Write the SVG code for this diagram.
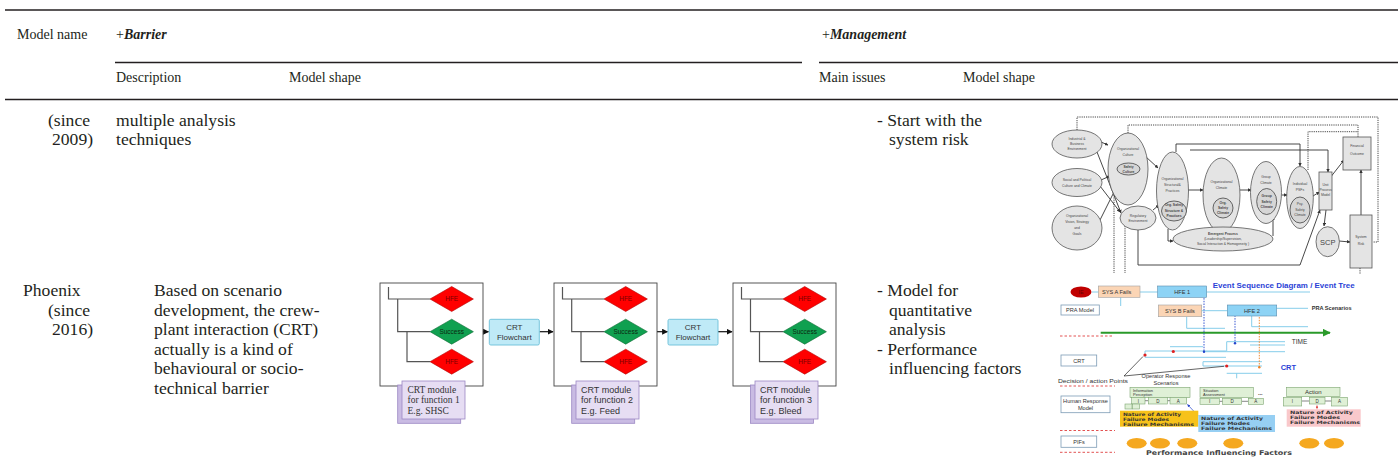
<svg xmlns="http://www.w3.org/2000/svg" width="1398" height="467" viewBox="0 0 1398 467">
<style>
.t{font-family:"Liberation Serif",serif;fill:#231f20}
.h{font-size:14px}
.b{font-size:17.6px}
.bi{font-weight:bold;font-style:italic}
.rule{stroke:#231f20;stroke-width:1.6}
.s{font-family:"Liberation Sans",Arial,sans-serif}
.e1{fill:#e4e4e4;stroke:#555;stroke-width:0.8}
.e1i{fill:#d6d6d6;stroke:#444;stroke-width:0.8}
.tx1{font-family:"Liberation Sans",Arial,sans-serif;font-size:3.4px;fill:#444;text-anchor:middle}
.ln1{fill:none;stroke:#333;stroke-width:0.9}
.dot1{fill:none;stroke:#333;stroke-width:0.9;stroke-dasharray:1.2 1}
.tree{fill:none;stroke:#555;stroke-width:1.2}
.box{fill:#fff;stroke:#444;stroke-width:0.9}
.red{fill:#ff0000;stroke:#b00000;stroke-width:0.6}
.grn{fill:#10a050;stroke:#0a6a30;stroke-width:0.6}
.dtx{font-family:"Liberation Sans",Arial,sans-serif;font-size:6.5px;text-anchor:middle}
.crt{fill:#bfeaf7;stroke:#6cbfd8;stroke-width:0.9}
.mback{fill:#c9bbe3;stroke:#9c88c4;stroke-width:0.8}
.mfront{fill:#e6ddf3;stroke:#9c88c4;stroke-width:0.8}
.arr{fill:none;stroke:#111;stroke-width:1.2}
.lb{fill:#fff;stroke:#7d9cb6;stroke-width:0.8}
.ptx{font-family:"Liberation Sans",Arial,sans-serif;font-size:5.6px;fill:#333}
.bl{fill:none;stroke:#86cdea;stroke-width:1}
.gb{fill:#dff0d6;stroke:#7da672;stroke-width:0.6}
.mono{font-family:"DejaVu Sans",sans-serif;font-size:4.6px;fill:#333;font-weight:bold}
.rd{fill:none;stroke:#e04040;stroke-width:0.9;stroke-dasharray:2.5 2}
.org{fill:#f5a81f}
</style>
<defs>
<marker id="ah" viewBox="0 0 10 10" refX="9" refY="5" markerWidth="5" markerHeight="5" orient="auto"><path d="M0,0 L10,5 L0,10 z" fill="#111"/></marker>
<marker id="ah1" viewBox="0 0 10 10" refX="9" refY="5" markerWidth="4" markerHeight="4" orient="auto"><path d="M0,0 L10,5 L0,10 z" fill="#333"/></marker>
<marker id="ahg" viewBox="0 0 10 10" refX="9" refY="5" markerWidth="4" markerHeight="4" orient="auto"><path d="M0,0 L10,5 L0,10 z" fill="#2a9a2a"/></marker>
<marker id="ahb" viewBox="0 0 10 10" refX="9" refY="5" markerWidth="4" markerHeight="4" orient="auto"><path d="M0,0 L10,5 L0,10 z" fill="#2244cc"/></marker>
<marker id="ahr" viewBox="0 0 10 10" refX="9" refY="5" markerWidth="4" markerHeight="4" orient="auto"><path d="M0,0 L10,5 L0,10 z" fill="#e05050"/></marker>
</defs>

<g id="table-rules">
<line class="rule" x1="5" y1="10" x2="1398" y2="10"/>
<line class="rule" x1="115" y1="62.5" x2="802" y2="62.5"/>
<line class="rule" x1="819" y1="62.5" x2="1398" y2="62.5"/>
<line class="rule" x1="5" y1="99.5" x2="1398" y2="99.5"/>
</g>

<g id="table-header">
<text class="t h" x="17" y="39">Model name</text>
<text class="t h" x="116" y="39">+<tspan class="bi">Barrier</tspan></text>
<text class="t h" x="822" y="39">+<tspan class="bi">Management</tspan></text>
<text class="t h" x="116" y="82">Description</text>
<text class="t h" x="289" y="82">Model shape</text>
<text class="t h" x="819" y="82">Main issues</text>
<text class="t h" x="963" y="82">Model shape</text>
</g>

<g id="row1-text">
<text class="t b" x="48" y="126">(since</text>
<text class="t b" x="52" y="145">2009)</text>
<text class="t b" x="116" y="126">multiple analysis</text>
<text class="t b" x="116" y="145">techniques</text>
<text class="t b" x="877" y="126">- Start with the</text>
<text class="t b" x="889" y="145">system risk</text>
</g>

<g id="row2-text">
<text class="t b" x="23" y="296">Phoenix</text>
<text class="t b" x="48" y="315.5">(since</text>
<text class="t b" x="52" y="335">2016)</text>
<text class="t b" x="154" y="296">Based on scenario</text>
<text class="t b" x="154" y="315.5">development, the crew-</text>
<text class="t b" x="154" y="335">plant interaction (CRT)</text>
<text class="t b" x="154" y="354.5">actually is a kind of</text>
<text class="t b" x="154" y="374">behavioural or socio-</text>
<text class="t b" x="154" y="393.5">technical barrier</text>
<text class="t b" x="877" y="296">- Model for</text>
<text class="t b" x="889" y="315.5">quantitative</text>
<text class="t b" x="889" y="335">analysis</text>
<text class="t b" x="877" y="354.5">- Performance</text>
<text class="t b" x="889" y="374">influencing factors</text>
</g>

<!-- ============ Socio-technical risk model ============ -->
<g id="str-connectors">
<path class="dot1" d="M1077,130 V117 H1378 V242 H1373"/>
<path class="dot1" d="M1128,133 V125 H1358 V137"/>
<path class="dot1" d="M1308,170 V131.7 H1358"/>
<path class="dot1" d="M1114,193 V273"/>
<path class="dot1" d="M1125,226 V273"/>
<path class="dot1" d="M1360,268 V274"/>
<path class="ln1" d="M1101,142 L1108,145" marker-end="url(#ah1)"/>
<path class="ln1" d="M1097,152 L1121,213" marker-end="url(#ah1)"/>
<path class="ln1" d="M1101,180 L1110,176" marker-end="url(#ah1)"/>
<path class="ln1" d="M1100,186 L1120,212" marker-end="url(#ah1)"/>
<path class="ln1" d="M1100,220 L1115,190" marker-end="url(#ah1)"/>
<path class="ln1" d="M1145,156 L1158,168" marker-end="url(#ah1)"/>
<path class="ln1" d="M1153,210 L1159,205" marker-end="url(#ah1)"/>
<path class="ln1" d="M1188,190 H1203" marker-end="url(#ah1)"/>
<path class="ln1" d="M1240,190 H1251" marker-end="url(#ah1)"/>
<path class="ln1" d="M1281.5,195 H1287" marker-end="url(#ah1)"/>
<path class="ln1" d="M1313,196 L1319.5,192" marker-end="url(#ah1)"/>
<path class="ln1" d="M1176,152 V144 H1300 V166" marker-end="url(#ah1)"/>
<path class="ln1" d="M1190,150 H1328 V172" marker-end="url(#ah1)"/>
<path class="ln1" d="M1331.5,176 L1344,160" marker-end="url(#ah1)"/>
<path class="ln1" d="M1326,210 L1324,226" marker-end="url(#ah1)"/>
<path class="ln1" d="M1339,241 L1350,242" marker-end="url(#ah1)"/>
<path class="ln1" d="M1361,215 V170" marker-end="url(#ah1)"/>
<path class="ln1" d="M1273,236 V217" marker-end="url(#ah1)"/>
<path class="ln1" d="M1223,227 V218.5" marker-end="url(#ah1)"/>
<path class="ln1" d="M1168,229 V241 H1173" marker-end="url(#ah1)"/>
<path class="ln1" d="M1138,230 V265 H1300 L1320,210" marker-end="url(#ah1)"/>
</g>
<g id="str-industrial">
<ellipse class="e1" cx="1077" cy="144" rx="25" ry="14"/>
<text class="tx1" x="1077" y="140">Industrial &amp;</text><text class="tx1" x="1077" y="145">Business</text><text class="tx1" x="1077" y="150">Environment</text>
</g>
<g id="str-social">
<ellipse class="e1" cx="1077" cy="182.5" rx="25" ry="14"/>
<text class="tx1" x="1077" y="181">Social and Political</text><text class="tx1" x="1077" y="187">Culture and Climate</text>
</g>
<g id="str-vision">
<ellipse class="e1" cx="1077" cy="228" rx="25" ry="22"/>
<text class="tx1" x="1077" y="217">Organizational</text><text class="tx1" x="1077" y="223">Vision, Strategy</text><text class="tx1" x="1077" y="229">and</text><text class="tx1" x="1077" y="235">Goals</text>
</g>
<g id="str-orgculture">
<ellipse class="e1" cx="1128" cy="169" rx="20" ry="36"/>
<text class="tx1" x="1128" y="150">Organizational</text><text class="tx1" x="1128" y="156">Culture</text>
<ellipse class="e1i" cx="1128.5" cy="169" rx="11.5" ry="6"/>
<text class="tx1" x="1128.5" y="168" style="font-weight:bold">Safety</text><text class="tx1" x="1128.5" y="172.5" style="font-weight:bold">Culture</text>
</g>
<g id="str-regulatory">
<ellipse class="e1" cx="1138" cy="218" rx="18" ry="12"/>
<text class="tx1" x="1138" y="217">Regulatory</text><text class="tx1" x="1138" y="222">Environment</text>
</g>
<g id="str-orgstructure">
<ellipse class="e1" cx="1172.5" cy="191" rx="16" ry="39"/>
<text class="tx1" x="1172.5" y="180">Organizational</text><text class="tx1" x="1172.5" y="186">Structural&amp;</text><text class="tx1" x="1172.5" y="192">Practices</text>
<ellipse class="e1i" cx="1174" cy="211" rx="12.5" ry="10"/>
<text class="tx1" x="1174" y="206" style="font-weight:bold">Org. Safety</text><text class="tx1" x="1174" y="211.5" style="font-weight:bold">Structure &amp;</text><text class="tx1" x="1174" y="217" style="font-weight:bold">Practices</text>
</g>
<g id="str-orgclimate">
<ellipse class="e1" cx="1221.5" cy="195" rx="18.5" ry="37"/>
<text class="tx1" x="1221.5" y="183">Organizational</text><text class="tx1" x="1221.5" y="189">Climate</text>
<ellipse class="e1i" cx="1223" cy="208" rx="10" ry="10"/>
<text class="tx1" x="1223" y="204" style="font-weight:bold">Org.</text><text class="tx1" x="1223" y="209" style="font-weight:bold">Safety</text><text class="tx1" x="1223" y="214" style="font-weight:bold">Climate</text>
</g>
<g id="str-groupclimate">
<ellipse class="e1" cx="1266" cy="192.5" rx="15.5" ry="31"/>
<text class="tx1" x="1266" y="178">Group</text><text class="tx1" x="1266" y="184">Climate</text>
<ellipse class="e1i" cx="1266.7" cy="201.5" rx="10" ry="13"/>
<text class="tx1" x="1266.7" y="197" style="font-weight:bold">Group</text><text class="tx1" x="1266.7" y="202.5" style="font-weight:bold">Safety</text><text class="tx1" x="1266.7" y="208" style="font-weight:bold">Climate</text>
</g>
<g id="str-individual">
<ellipse class="e1" cx="1300" cy="197.5" rx="13.3" ry="31"/>
<text class="tx1" x="1300" y="185">Individual</text><text class="tx1" x="1300" y="191">PSFs</text>
<ellipse class="e1i" cx="1300" cy="210" rx="10" ry="13"/>
<text class="tx1" x="1300" y="205">Psy.</text><text class="tx1" x="1300" y="210.5">Safety</text><text class="tx1" x="1300" y="216">Climate</text>
</g>
<g id="str-emergent">
<ellipse class="e1" cx="1223" cy="239" rx="50" ry="12"/>
<text class="tx1" x="1223" y="235" style="font-weight:bold">Emergent Process</text><text class="tx1" x="1223" y="240">(Leadership/Supervision,</text><text class="tx1" x="1223" y="245">Social Interaction &amp; Homogeneity )</text>
</g>
<g id="str-unit">
<rect class="e1" x="1319" y="172" width="13" height="38"/>
<text class="tx1" x="1325.5" y="186">Unit</text><text class="tx1" x="1325.5" y="191">Process</text><text class="tx1" x="1325.5" y="196">Model</text>
</g>
<g id="str-financial">
<rect class="e1" x="1343" y="137" width="28" height="33"/>
<text class="tx1" x="1357" y="147">Financial</text><text class="tx1" x="1357" y="155">Outcome</text>
</g>
<g id="str-scp">
<ellipse class="e1" cx="1327.7" cy="241.7" rx="11.7" ry="15"/>
<text x="1327.7" y="244.5" style="font-family:'Liberation Sans',Arial,sans-serif;font-size:7.5px;fill:#444;text-anchor:middle">SCP</text>
</g>
<g id="str-systemrisk">
<rect class="e1" x="1350" y="215" width="22" height="53"/>
<text class="tx1" x="1361" y="238">System</text><text class="tx1" x="1361" y="245">Risk</text>
</g>

<!-- ============ CRT flowchart ============ -->
<g id="crt-connectors">
<path class="arr" d="M473.5,331.7 H488.5" marker-end="url(#ah)"/>
<path class="arr" d="M539.5,331.7 H553" marker-end="url(#ah)"/>
<path class="arr" d="M647.5,331.7 H667.5" marker-end="url(#ah)"/>
<path class="arr" d="M717.5,331.7 H732" marker-end="url(#ah)"/>
</g>
<g id="crt-box1">
<rect class="box" x="380" y="283" width="103" height="103"/>
<path class="tree" d="M388.5,287 V299 H430 M397.7,299 V331.7 H430 M407,331.7 V361.7 H430"/>
<path class="red" d="M430,299 L451.7,286.5 L473.4,299 L451.7,311.5 z"/>
<text class="dtx" x="451.7" y="301.3" fill="#7a0000">HFE</text>
<path class="grn" d="M430,331.7 L451.7,319.2 L473.4,331.7 L451.7,344.2 z"/>
<text class="dtx" x="451.7" y="334" fill="#0a2a10">Success</text>
<path class="red" d="M430,361.7 L451.7,349.2 L473.4,361.7 L451.7,374.2 z"/>
<text class="dtx" x="451.7" y="364" fill="#7a0000">HFE</text>
</g>
<g id="crt-module1">
<rect class="mback" x="397.7" y="385" width="63" height="38.3"/>
<rect class="mfront" x="402" y="381" width="63" height="38"/>
<text x="407.5" y="392.5" style="font-family:'Liberation Serif',serif;font-size:9.5px;fill:#333">CRT module</text>
<text x="407.5" y="403" style="font-family:'Liberation Serif',serif;font-size:9.5px;fill:#333">for function 1</text>
<text x="407.5" y="413.5" style="font-family:'Liberation Serif',serif;font-size:9.5px;fill:#333">E.g. SHSC</text>
</g>
<g id="crt-flow1">
<rect class="crt" x="489.3" y="319.3" width="50" height="25.7" rx="1.5"/>
<text class="dtx" x="514.3" y="329.5" fill="#333" style="font-size:8px">CRT</text>
<text class="dtx" x="514.3" y="340" fill="#333" style="font-size:8px">Flowchart</text>
</g>
<g id="crt-box2">
<rect class="box" x="554" y="283" width="103" height="103"/>
<path class="tree" d="M562.5,287 V299 H604 M571.7,299 V331.7 H604 M581,331.7 V361.7 H604"/>
<path class="red" d="M604,299 L625.7,286.5 L647.4,299 L625.7,311.5 z"/>
<text class="dtx" x="625.7" y="301.3" fill="#7a0000">HFE</text>
<path class="grn" d="M604,331.7 L625.7,319.2 L647.4,331.7 L625.7,344.2 z"/>
<text class="dtx" x="625.7" y="334" fill="#0a2a10">Success</text>
<path class="red" d="M604,361.7 L625.7,349.2 L647.4,361.7 L625.7,374.2 z"/>
<text class="dtx" x="625.7" y="364" fill="#7a0000">HFE</text>
</g>
<g id="crt-module2">
<rect class="mback" x="571.7" y="385" width="63" height="38.3"/>
<rect class="mfront" x="576" y="381" width="63" height="38"/>
<text class="s" x="581" y="392.5" style="font-size:9px;fill:#333">CRT module</text>
<text class="s" x="581" y="403" style="font-size:9px;fill:#333">for function 2</text>
<text class="s" x="581" y="413.5" style="font-size:9px;fill:#333">E.g. Feed</text>
</g>
<g id="crt-flow2">
<rect class="crt" x="668" y="319.3" width="50" height="25.7" rx="1.5"/>
<text class="dtx" x="693" y="329.5" fill="#333" style="font-size:8px">CRT</text>
<text class="dtx" x="693" y="340" fill="#333" style="font-size:8px">Flowchart</text>
</g>
<g id="crt-box3">
<rect class="box" x="733" y="283" width="103" height="103"/>
<path class="tree" d="M741.5,287 V299 H783 M750.5,299 V331.7 H783 M759.5,331.7 V361.7 H783"/>
<path class="red" d="M783,299 L804.7,286.5 L826.4,299 L804.7,311.5 z"/>
<text class="dtx" x="804.7" y="301.3" fill="#7a0000">HFE</text>
<path class="grn" d="M783,331.7 L804.7,319.2 L826.4,331.7 L804.7,344.2 z"/>
<text class="dtx" x="804.7" y="334" fill="#0a2a10">Success</text>
<path class="red" d="M783,361.7 L804.7,349.2 L826.4,361.7 L804.7,374.2 z"/>
<text class="dtx" x="804.7" y="364" fill="#7a0000">HFE</text>
</g>
<g id="crt-module3">
<rect class="mback" x="750.5" y="385" width="63" height="38.3"/>
<rect class="mfront" x="755" y="381" width="63" height="38"/>
<text class="s" x="760" y="392.5" style="font-size:9px;fill:#333">CRT module</text>
<text class="s" x="760" y="403" style="font-size:9px;fill:#333">for function 3</text>
<text class="s" x="760" y="413.5" style="font-size:9px;fill:#333">E.g. Bleed</text>
</g>

<!-- ============ Phoenix model ============ -->
<g id="phx-connectors">
<path class="bl" d="M1092,292 H1098.3 M1140,292 H1157.7 M1206.7,292 H1310 M1120.7,297.3 V306 M1201.7,310.7 H1227.3 M1186.7,316.7 V328.3 H1225 M1276.7,308.3 H1308 M1251.7,316 V326.7 H1308"/>
<path class="bl" d="M1170,346.7 H1203 M1145,351 H1226 M1145,351 V357.3 H1226 M1226.7,341.7 H1285 M1226.7,341.7 V351 M1250,345 H1285 M1203,351.7 H1285 M1203,361.7 H1262 M1203,361.7 V366 H1262 M1226.7,373.3 H1262 M1236.7,373.3 V378.3"/>
<path d="M1100.7,332.7 H1330" stroke="#2a9a2a" stroke-width="2" fill="none" marker-end="url(#ahg)"/>
<path d="M1204,290 V351.7" stroke="#2244cc" stroke-width="0.9" stroke-dasharray="1.5 1.2" fill="none"/>
<path d="M1235,310 V343.3" stroke="#2244cc" stroke-width="0.9" stroke-dasharray="1.5 1.2" fill="none"/>
<path d="M1259.3,311.7 V367.3" stroke="#f08020" stroke-width="0.9" stroke-dasharray="1.5 1.2" fill="none"/>
<circle cx="1204" cy="290" r="1.2" fill="#2244cc"/><circle cx="1204" cy="351.7" r="1.2" fill="#2244cc"/>
<circle cx="1235" cy="310" r="1.2" fill="#2244cc"/><circle cx="1235" cy="343.3" r="1.2" fill="#2244cc"/>
<circle cx="1259.3" cy="311.7" r="1.2" fill="#f08020"/><circle cx="1259.3" cy="367.3" r="1.2" fill="#f08020"/>
<path d="M1124,376 L1143,356.5 M1124,376 L1224,366.3" stroke="#222" stroke-width="0.7" fill="none"/>
<circle cx="1145" cy="355" r="1.6" fill="#e02020"/>
<circle cx="1173.3" cy="351.5" r="1.6" fill="#e02020"/>
<circle cx="1226.7" cy="366" r="1.6" fill="#e02020"/>
<path d="M1198.3,416 L1187.5,404.5" stroke="#2244cc" stroke-width="0.7" fill="none" marker-end="url(#ahb)"/>
<path d="M1317,409.3 V405.5" stroke="#e05050" stroke-width="0.7" fill="none" marker-end="url(#ahr)"/>
<path d="M1145,400.7 H1148.3 M1167.3,400.7 H1170 M1219.3,401.3 H1222.7 M1241.7,401.3 H1248.3 M1301.7,401 H1309.3 M1325,401 H1331.7" stroke="#333" stroke-width="0.6" fill="none"/>
<path class="rd" d="M1060,336 H1112 M1060,386 H1115 M1060,430.5 H1115 M1060,452.3 H1115"/>
</g>
<g id="phx-ie">
<ellipse cx="1081" cy="292" rx="10.5" ry="5.5" fill="#c00000"/>
<text x="1081" y="294" style="font-family:'Liberation Sans',Arial,sans-serif;font-size:5.5px;fill:#6a0000;text-anchor:middle">IE</text>
</g>
<g id="phx-sysa">
<rect x="1098.3" y="286" width="41.7" height="11.3" fill="#fbd5b5" stroke="#a0a0a0" stroke-width="0.6"/>
<text class="ptx" x="1102" y="293.8">SYS A Fails</text>
</g>
<g id="phx-hfe1">
<rect x="1157.7" y="286" width="49" height="11.3" fill="#8dd3f5" stroke="#5a8cad" stroke-width="0.6"/>
<text class="ptx" x="1182.2" y="293.8" text-anchor="middle">HFE 1</text>
</g>
<g id="phx-title">
<text x="1212.7" y="287.5" textLength="142" lengthAdjust="spacingAndGlyphs" style="font-family:'Liberation Sans',Arial,sans-serif;font-size:7.5px;font-weight:bold;fill:#2a3fd6">Event Sequence Diagram / Event Tree</text>
</g>
<g id="phx-pramodel">
<rect class="lb" x="1061" y="305" width="38.3" height="10"/>
<text class="ptx" x="1080" y="312.2" text-anchor="middle">PRA Model</text>
</g>
<g id="phx-sysb">
<rect x="1158.3" y="305" width="43.4" height="11.7" fill="#fbd5b5" stroke="#a0a0a0" stroke-width="0.6"/>
<text class="ptx" x="1180" y="313" text-anchor="middle">SYS B Fails</text>
</g>
<g id="phx-hfe2">
<rect x="1227.3" y="305" width="49.4" height="11" fill="#8dd3f5" stroke="#5a8cad" stroke-width="0.6"/>
<text class="ptx" x="1252" y="312.5" text-anchor="middle">HFE 2</text>
</g>
<g id="phx-prascen">
<text class="ptx" x="1311.7" y="310.3" style="font-weight:bold">PRA Scenarios</text>
</g>
<g id="phx-time">
<text class="ptx" x="1291.7" y="343.5" style="font-size:6.5px">TIME</text>
</g>
<g id="phx-crtlabel">
<rect class="lb" x="1061" y="355" width="35.7" height="11"/>
<text class="ptx" x="1079" y="362.7" text-anchor="middle">CRT</text>
<text x="1280.7" y="369.5" style="font-family:'Liberation Sans',Arial,sans-serif;font-size:7.5px;font-weight:bold;fill:#2a3fd6">CRT</text>
</g>
<g id="phx-decision">
<text class="ptx" x="1058" y="383" textLength="70" lengthAdjust="spacingAndGlyphs">Decision / action Points</text>
</g>
<g id="phx-operator">
<text class="ptx" x="1166" y="377.5" text-anchor="middle">Operator Response</text>
<text class="ptx" x="1166" y="385" text-anchor="middle">Scenarios</text>
</g>
<g id="phx-hrm">
<rect class="lb" x="1061" y="396" width="49" height="16.7"/>
<text class="ptx" x="1085.5" y="403" text-anchor="middle">Human Response</text>
<text class="ptx" x="1085.5" y="410" text-anchor="middle">Model</text>
</g>
<g id="phx-info">
<rect class="gb" x="1130" y="387.3" width="60" height="10.4"/>
<text class="ptx" x="1133" y="391.5" style="font-size:4px">Information</text>
<text class="ptx" x="1133" y="396" style="font-size:4px">Perception</text>
<rect class="gb" x="1131.7" y="397.3" width="13.3" height="6.7"/><text class="ptx" x="1138.3" y="402.5" text-anchor="middle" style="font-size:4.5px">I</text>
<rect class="gb" x="1148.3" y="397.3" width="19" height="6.7"/><text class="ptx" x="1157.8" y="402.5" text-anchor="middle" style="font-size:4.5px">D</text>
<rect class="gb" x="1170" y="397.3" width="16.7" height="6.7"/><text class="ptx" x="1178.3" y="402.5" text-anchor="middle" style="font-size:4.5px">A</text>
<rect class="gb" x="1125" y="404" width="7" height="5"/><rect class="gb" x="1132.5" y="404" width="7" height="5"/>
</g>
<g id="phx-yellow">
<rect x="1120" y="410.7" width="78.3" height="16" fill="#f7c21a"/>
<text class="mono" x="1123" y="415.5" textLength="58" lengthAdjust="spacingAndGlyphs">Nature of Activity</text>
<text class="mono" x="1123" y="420.5" textLength="46" lengthAdjust="spacingAndGlyphs">Failure Modes</text>
<text class="mono" x="1123" y="425.5" textLength="71" lengthAdjust="spacingAndGlyphs">Failure Mechanisms</text>
</g>
<g id="phx-situation">
<rect class="gb" x="1200" y="387.3" width="53.3" height="10.4"/>
<text class="ptx" x="1203" y="391.5" style="font-size:4px">Situation</text>
<text class="ptx" x="1203" y="396" style="font-size:4px">Assessment</text>
<rect class="gb" x="1200" y="398.3" width="19.3" height="6"/><text class="ptx" x="1209.6" y="403.2" text-anchor="middle" style="font-size:4.5px">I</text>
<rect class="gb" x="1222.7" y="398.3" width="19" height="6"/><text class="ptx" x="1232.2" y="403.2" text-anchor="middle" style="font-size:4.5px">D</text>
<rect class="gb" x="1248.3" y="398.3" width="15" height="6"/><text class="ptx" x="1255.8" y="403.2" text-anchor="middle" style="font-size:4.5px">A</text>
<text class="ptx" x="1258" y="394.5" style="font-weight:bold">...</text>
</g>
<g id="phx-blue">
<rect x="1198.3" y="415" width="76.7" height="17" fill="#96cff3"/>
<text class="mono" x="1201" y="420" textLength="62" lengthAdjust="spacingAndGlyphs">Nature of Activity</text>
<text class="mono" x="1201" y="425" textLength="49" lengthAdjust="spacingAndGlyphs">Failure Modes</text>
<text class="mono" x="1201" y="430" textLength="71" lengthAdjust="spacingAndGlyphs">Failure Mechanisms</text>
</g>
<g id="phx-action">
<rect class="gb" x="1286.7" y="387.3" width="53.3" height="9.4"/>
<text class="ptx" x="1313.3" y="394" text-anchor="middle" style="font-size:6px">Action</text>
<rect class="gb" x="1283.3" y="397.3" width="18.4" height="8.7"/><text class="ptx" x="1292.5" y="402.5" text-anchor="middle" style="font-size:4.5px">I</text>
<rect class="gb" x="1309.3" y="397.3" width="15.7" height="6.7"/><text class="ptx" x="1317.2" y="402.5" text-anchor="middle" style="font-size:4.5px">D</text>
<rect class="gb" x="1331.7" y="397.3" width="15.6" height="8.7"/><text class="ptx" x="1339.5" y="402.5" text-anchor="middle" style="font-size:4.5px">A</text>
</g>
<g id="phx-pink">
<rect x="1286.7" y="409.3" width="74" height="17.4" fill="#f9c8cb"/>
<text class="mono" x="1290" y="414" textLength="63" lengthAdjust="spacingAndGlyphs">Nature of Activity</text>
<text class="mono" x="1290" y="419" textLength="50" lengthAdjust="spacingAndGlyphs">Failure Modes</text>
<text class="mono" x="1290" y="424" textLength="70" lengthAdjust="spacingAndGlyphs">Failure Mechanisms</text>
</g>
<g id="phx-pifs">
<rect class="lb" x="1061" y="436" width="35.7" height="11.3"/>
<text class="ptx" x="1079" y="443.8" text-anchor="middle">PIFs</text>
<ellipse class="org" cx="1136.7" cy="443.3" rx="10" ry="5.2"/>
<ellipse class="org" cx="1160" cy="443.3" rx="10" ry="5.2"/>
<ellipse class="org" cx="1187.3" cy="443.3" rx="10" ry="5.2"/>
<ellipse class="org" cx="1233.3" cy="443.3" rx="10" ry="5.2"/>
<ellipse class="org" cx="1309.3" cy="443.3" rx="10" ry="5.2"/>
<ellipse class="org" cx="1334" cy="443.3" rx="10" ry="5.2"/>
<text x="1146" y="454.5" textLength="146" lengthAdjust="spacingAndGlyphs" style="font-family:'DejaVu Sans',sans-serif;font-size:6.5px;font-weight:bold;fill:#444">Performance Influencing Factors</text>
</g>
</svg>
